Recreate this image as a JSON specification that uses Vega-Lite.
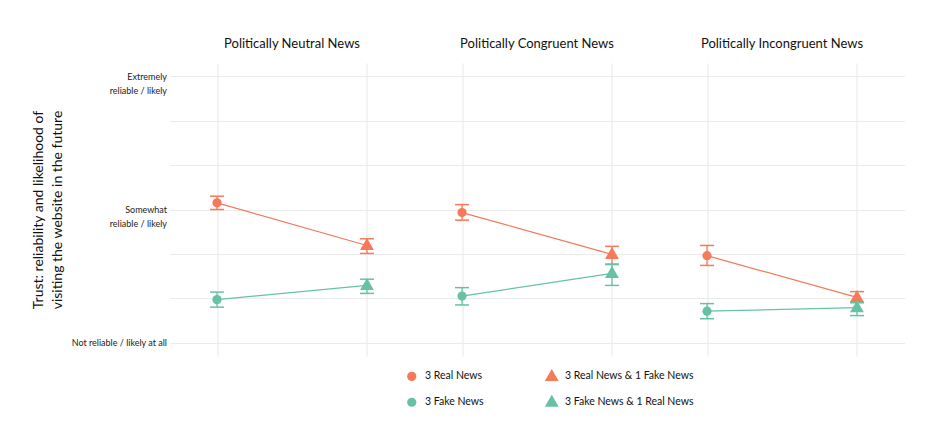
{
  "$schema": "https://vega.github.io/schema/vega-lite/v6.json",
  "background": "white",
  "padding": {"left": 31.5, "top": 38, "right": 5, "bottom": 5},
  "data": {
    "values": [
      {"panel": "Politically Neutral News", "group": "Real", "set": "Pure", "condition": "3 Real News", "mean": 4.15, "lo": 4.0, "hi": 4.3},
      {"panel": "Politically Neutral News", "group": "Real", "set": "Mixed", "condition": "3 Real News & 1 Fake News", "mean": 3.19, "lo": 3.01, "hi": 3.34},
      {"panel": "Politically Neutral News", "group": "Fake", "set": "Pure", "condition": "3 Fake News", "mean": 1.97, "lo": 1.8, "hi": 2.14},
      {"panel": "Politically Neutral News", "group": "Fake", "set": "Mixed", "condition": "3 Fake News & 1 Real News", "mean": 2.29, "lo": 2.11, "hi": 2.43},
      {"panel": "Politically Congruent News", "group": "Real", "set": "Pure", "condition": "3 Real News", "mean": 3.93, "lo": 3.76, "hi": 4.11},
      {"panel": "Politically Congruent News", "group": "Real", "set": "Mixed", "condition": "3 Real News & 1 Fake News", "mean": 2.99, "lo": 2.77, "hi": 3.17},
      {"panel": "Politically Congruent News", "group": "Fake", "set": "Pure", "condition": "3 Fake News", "mean": 2.05, "lo": 1.85, "hi": 2.24},
      {"panel": "Politically Congruent News", "group": "Fake", "set": "Mixed", "condition": "3 Fake News & 1 Real News", "mean": 2.56, "lo": 2.29, "hi": 2.76},
      {"panel": "Politically Incongruent News", "group": "Real", "set": "Pure", "condition": "3 Real News", "mean": 2.96, "lo": 2.74, "hi": 3.19},
      {"panel": "Politically Incongruent News", "group": "Real", "set": "Mixed", "condition": "3 Real News & 1 Fake News", "mean": 2.02, "lo": 1.9, "hi": 2.15},
      {"panel": "Politically Incongruent News", "group": "Fake", "set": "Pure", "condition": "3 Fake News", "mean": 1.71, "lo": 1.54, "hi": 1.88},
      {"panel": "Politically Incongruent News", "group": "Fake", "set": "Mixed", "condition": "3 Fake News & 1 Real News", "mean": 1.79, "lo": 1.61, "hi": 1.91}
    ]
  },
  "facet": {
    "column": {
      "field": "panel",
      "type": "nominal",
      "sort": ["Politically Neutral News", "Politically Congruent News", "Politically Incongruent News"],
      "title": null,
      "header": {"labelFont": "Lato", "labelFontSize": 13, "labelColor": "#111111", "labelPadding": 12}
    }
  },
  "spacing": 0,
  "spec": {
    "width": 245,
    "height": 293,
    "encoding": {
      "x": {
        "field": "set",
        "type": "nominal",
        "sort": ["Pure", "Mixed"],
        "scale": {"type": "point", "padding": 0.317},
        "axis": {"title": null, "labels": false, "ticks": false, "domain": false, "grid": true, "gridColor": "#EBEBEB", "gridWidth": 1.2}
      }
    },
    "layer": [
      {
        "mark": {"type": "line", "strokeWidth": 1.2},
        "encoding": {
          "y": {
            "field": "mean",
            "type": "quantitative",
            "scale": {"domain": [0.7, 7.3], "nice": false, "zero": false},
            "axis": {
              "values": [1, 2, 3, 4, 5, 6, 7],
              "labelExpr": "datum.value == 7 ? ['Extremely', 'reliable / likely'] : datum.value == 4 ? ['Somewhat', 'reliable / likely'] : datum.value == 1 ? 'Not reliable / likely at all' : ''",
              "title": ["Trust:  reliability and likelihood of", "visiting the website in the future"],
              "titleFont": "Lato",
              "titleFontSize": 14,
              "titleFontWeight": "normal",
              "titleColor": "#111111",
              "titlePadding": 4,
              "titleLineHeight": 19,
              "labelFont": "Lato",
              "labelFontSize": 9,
              "labelColor": "#222222",
              "labelPadding": 3,
              "labelLineHeight": 14,
              "minExtent": 101,
              "maxExtent": 101,
              "ticks": false,
              "domain": false,
              "grid": true,
              "gridColor": "#EBEBEB",
              "gridWidth": 1.2
            }
          },
          "stroke": {"field": "group", "type": "nominal", "scale": {"domain": ["Real", "Fake"], "range": ["#F47A59", "#66C2A5"]}, "legend": null}
        }
      },
      {
        "mark": {"type": "rule", "strokeWidth": 1.3},
        "encoding": {
          "y": {"field": "lo", "type": "quantitative"},
          "y2": {"field": "hi"},
          "stroke": {"field": "group", "type": "nominal", "legend": null}
        }
      },
      {
        "mark": {"type": "tick", "size": 14, "thickness": 1.5, "opacity": 1},
        "encoding": {
          "y": {"field": "lo", "type": "quantitative"},
          "fill": {"field": "group", "type": "nominal", "scale": {"domain": ["Real", "Fake"], "range": ["#F47A59", "#66C2A5"]}, "legend": null}
        }
      },
      {
        "mark": {"type": "tick", "size": 14, "thickness": 1.5, "opacity": 1},
        "encoding": {
          "y": {"field": "hi", "type": "quantitative"},
          "fill": {"field": "group", "type": "nominal", "legend": null}
        }
      },
      {
        "mark": {"type": "point", "filled": true, "opacity": 1, "size": 85},
        "encoding": {
          "y": {"field": "mean", "type": "quantitative"},
          "color": {
            "field": "condition",
            "type": "nominal",
            "scale": {"domain": ["3 Real News", "3 Real News & 1 Fake News", "3 Fake News", "3 Fake News & 1 Real News"], "range": ["#F47A59", "#F47A59", "#66C2A5", "#66C2A5"]},
            "legend": {"orient": "none", "direction": "horizontal", "legendX": 237, "legendY": 308, "title": null, "columns": 2}
          },
          "shape": {
            "field": "condition",
            "type": "nominal",
            "scale": {"domain": ["3 Real News", "3 Real News & 1 Fake News", "3 Fake News", "3 Fake News & 1 Real News"], "range": ["circle", "M0,-1.6L1.5,1L-1.5,1Z", "circle", "M0,-1.6L1.5,1L-1.5,1Z"]},
            "legend": {"orient": "none", "direction": "horizontal", "legendX": 237, "legendY": 308, "title": null, "columns": 2}
          }
        }
      }
    ]
  },
  "config": {
    "view": {"stroke": null},
    "legend": {
      "labelFont": "Lato",
      "labelFontSize": 10.5,
      "labelColor": "#111111",
      "symbolStrokeWidth": 0,
      "symbolSize": 85,
      "rowPadding": 12,
      "columnPadding": 60,
      "labelOffset": 8
    }
  }
}
